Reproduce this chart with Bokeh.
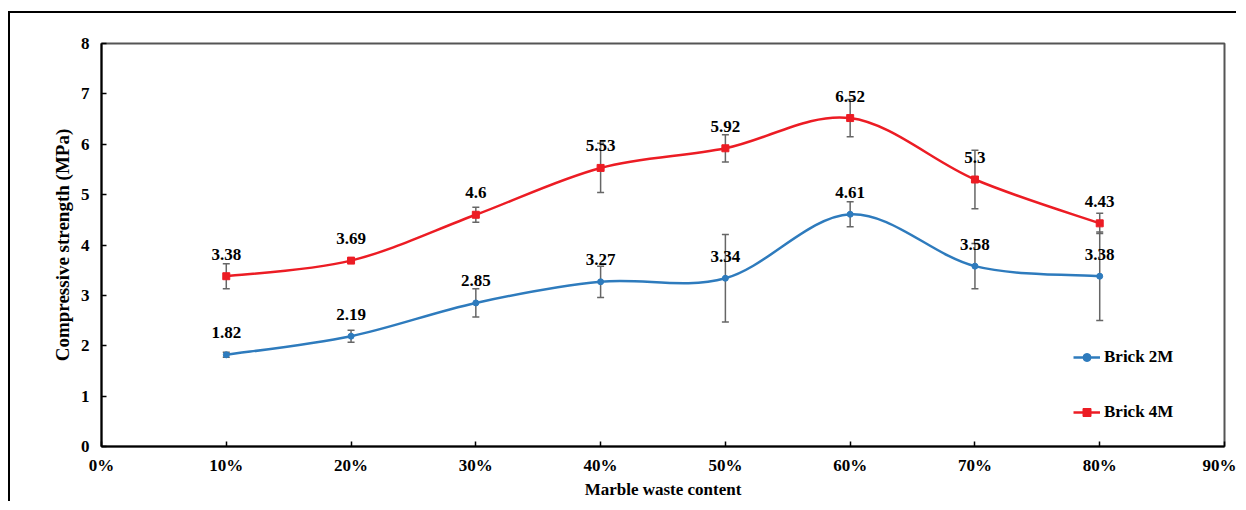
import numpy as np
from bokeh.plotting import figure
from bokeh.models import (ColumnDataSource, Whisker, TeeHead, FixedTicker,
                          Legend, LegendItem)
from bokeh.core.properties import value
from bokeh.embed import file_html
from bokeh.resources import INLINE

# ---------------- data ----------------
content = [10, 20, 30, 40, 50, 60, 70, 80]          # marble waste content (%)
brick_2m = [1.82, 2.19, 2.85, 3.27, 3.34, 4.61, 3.58, 3.38]
brick_4m = [3.38, 3.69, 4.6, 5.53, 5.92, 6.52, 5.3, 4.43]
err_2m = [0.05, 0.12, 0.28, 0.31, 0.87, 0.25, 0.45, 0.88]
err_4m = [0.25, 0.03, 0.15, 0.49, 0.27, 0.37, 0.58, 0.20]
x_ticks = [0, 10, 20, 30, 40, 50, 60, 70, 80, 90]
x_tick_labels = ["0%", "10%", "20%", "30%", "40%", "50%", "60%", "70%", "80%", "90%"]
y_ticks = [0, 1, 2, 3, 4, 5, 6, 7, 8]

BLUE = "#2E7BBD"
RED = "#EC1C24"
ERR = "#666666"
FONT = "Liberation Serif"


def smooth_parts(xs, ys):
    """Excel-style smoothed line: cubic Bezier segments whose control points
    are derived from neighbouring data points (Catmull-Rom)."""
    x = np.asarray(xs, float)
    y = np.asarray(ys, float)
    xp = np.concatenate([[x[0]], x, [x[-1]]])
    yp = np.concatenate([[y[0]], y, [y[-1]]])
    tx = (xp[2:] - xp[:-2]) / 6.0
    ty = (yp[2:] - yp[:-2]) / 6.0
    return dict(x0=x[:-1], y0=y[:-1], x1=x[1:], y1=y[1:],
                cx0=x[:-1] + tx[:-1], cy0=y[:-1] + ty[:-1],
                cx1=x[1:] - tx[1:], cy1=y[1:] - ty[1:])


p = figure(width=1228, height=490, x_range=(0, 90), y_range=(0, 8),
           output_backend="svg", toolbar_location=None,
           min_border_left=91, min_border_right=14,
           min_border_top=30, min_border_bottom=57)
p.styles = {"border-left": "2px solid black", "border-top": "2px solid black",
            "margin-top": "11px", "margin-left": "8px"}

p.xgrid.visible = False
p.ygrid.visible = False
p.outline_line_color = "#555555"
p.outline_line_width = 2
p.background_fill_color = "white"
p.border_fill_color = "white"

p.xaxis.ticker = FixedTicker(ticks=x_ticks)
p.xaxis.major_label_overrides = dict(zip(x_ticks, x_tick_labels))
p.yaxis.ticker = FixedTicker(ticks=y_ticks)
p.xaxis.axis_label = "Marble waste content"
p.yaxis.axis_label = "Compressive strength (MPa)"

for ax in (p.xaxis[0], p.yaxis[0]):
    ax.axis_line_color = "black"
    ax.axis_line_width = 2
    ax.major_tick_line_color = "black"
    ax.major_tick_line_width = 1.5
    ax.major_tick_in = 5
    ax.major_tick_out = 0
    ax.minor_tick_line_color = None
    ax.major_label_text_font = FONT
    ax.major_label_text_font_style = "bold"
    ax.major_label_text_font_size = "17px"
    ax.major_label_text_color = "black"
    ax.axis_label_text_font = FONT
    ax.axis_label_text_font_style = "bold"
    ax.axis_label_text_color = "black"

p.xaxis.major_label_standoff = 9
p.xaxis.axis_label_standoff = 2
p.xaxis.axis_label_text_font_size = "17px"
p.yaxis.major_label_standoff = 12
p.yaxis.axis_label_standoff = 5
p.yaxis.axis_label_text_font_size = "19px"

# error bars
for ys, es in ((brick_2m, err_2m), (brick_4m, err_4m)):
    src = ColumnDataSource(dict(base=content,
                                upper=[a + b for a, b in zip(ys, es)],
                                lower=[a - b for a, b in zip(ys, es)]))
    p.add_layout(Whisker(source=src, base="base", upper="upper", lower="lower",
                         line_color=ERR, line_width=1.5,
                         upper_head=TeeHead(size=7, line_color=ERR, line_width=1.5),
                         lower_head=TeeHead(size=7, line_color=ERR, line_width=1.5)))

# smoothed curves
c2 = p.bezier(x0="x0", y0="y0", x1="x1", y1="y1", cx0="cx0", cy0="cy0",
              cx1="cx1", cy1="cy1", source=ColumnDataSource(smooth_parts(content, brick_2m)),
              line_color=BLUE, line_width=2.5)
c4 = p.bezier(x0="x0", y0="y0", x1="x1", y1="y1", cx0="cx0", cy0="cy0",
              cx1="cx1", cy1="cy1", source=ColumnDataSource(smooth_parts(content, brick_4m)),
              line_color=RED, line_width=2.5)

m2 = p.scatter(content, brick_2m, marker="circle", size=6, color=BLUE)
m4 = p.scatter(content, brick_4m, marker="square", size=7, color=RED)

# data labels
for ys in (brick_2m, brick_4m):
    p.text(x=content, y=ys, text=[f"{v:g}" for v in ys],
           text_align="center", text_baseline="middle", y_offset=-22,
           text_font=value(FONT), text_font_style="bold",
           text_font_size="17px", text_color="black")

legend = Legend(items=[LegendItem(label="Brick 2M", renderers=[c2, m2]),
                       LegendItem(label="Brick 4M", renderers=[c4, m4])],
                location=(972, 24), orientation="vertical", spacing=35,
                padding=0, margin=0, glyph_width=27, glyph_height=20,
                label_height=20, label_standoff=4,
                border_line_color=None, background_fill_alpha=0,
                label_text_font=FONT, label_text_font_style="bold",
                label_text_font_size="17px", label_text_color="black")
p.add_layout(legend)

open("out.html", "w").write(file_html(p, INLINE))
